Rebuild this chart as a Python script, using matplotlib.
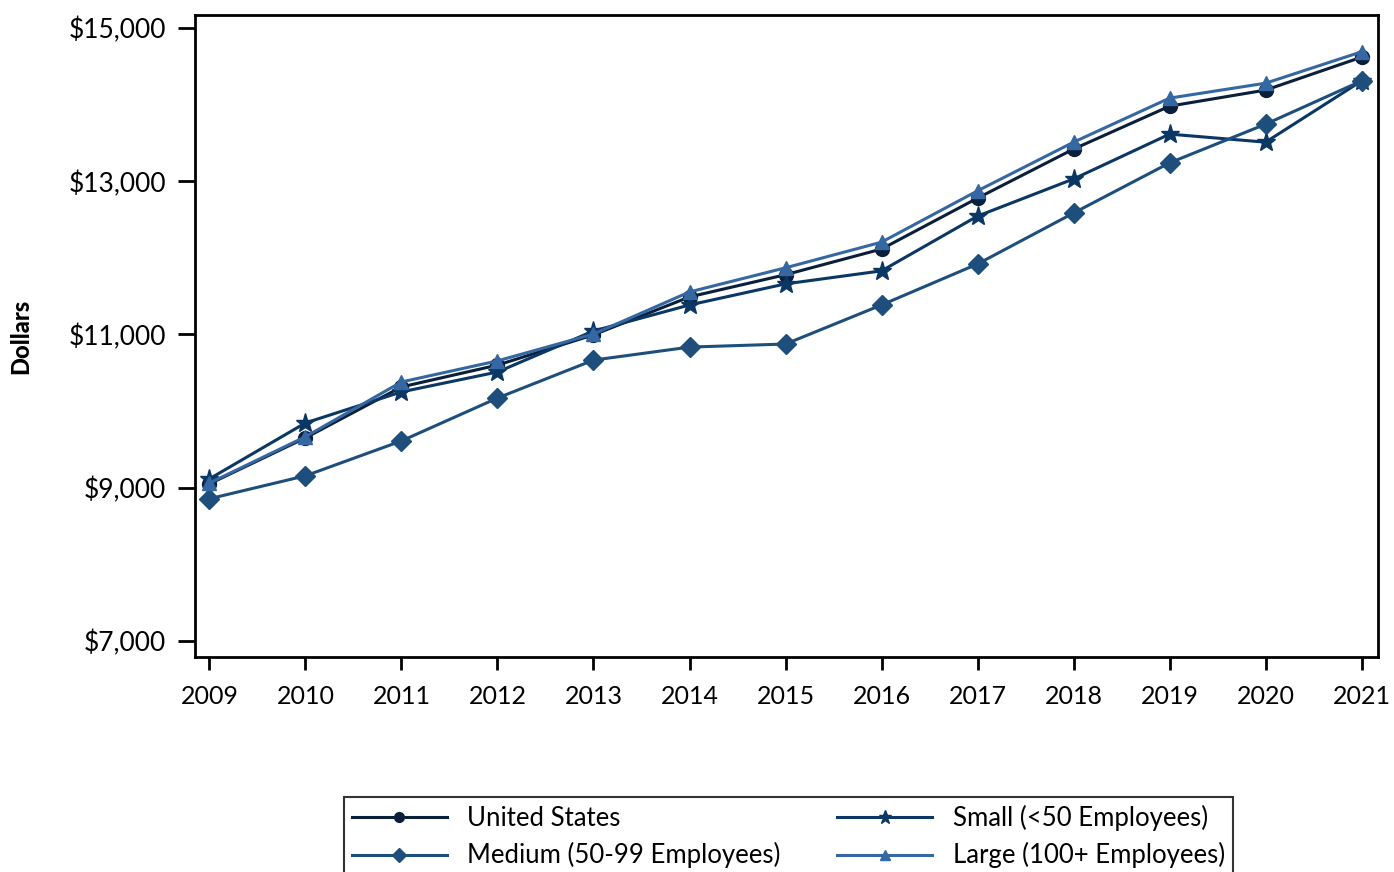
import matplotlib.pyplot as plt
from matplotlib.ticker import FuncFormatter

years = list(range(2009, 2022))
united_states = [9050, 9650, 10315, 10600, 10995, 11490, 11780, 12115, 12780, 13420, 13980, 14190, 14620]
small = [9115, 9845, 10250, 10510, 11045, 11385, 11660, 11830, 12545, 13030, 13615, 13510, 14310]
medium = [8855, 9155, 9610, 10170, 10665, 10835, 10875, 11385, 11920, 12585, 13240, 13745, 14310]
large = [9060, 9665, 10380, 10655, 11005, 11555, 11870, 12205, 12875, 13510, 14085, 14280, 14690]
y_ticks = [7000, 9000, 11000, 13000, 15000]

plt.rcParams['font.family'] = ['Lato', 'DejaVu Sans']

fig = plt.figure(figsize=(13.94, 8.72), dpi=100)
ax = fig.add_axes([0.1399, 0.2466, 0.8486, 0.7362])

series = [
    ('United States', united_states, '#0a1f3a', 'o', 10),
    ('Small (<50 Employees)', small, '#0b3765', '*', 14),
    ('Medium (50-99 Employees)', medium, '#1e4f7c', 'D', 10),
    ('Large (100+ Employees)', large, '#3568a2', '^', 10),
]
lines = {}
for label, vals, color, marker, ms in series:
    lines[label], = ax.plot(years, vals, color=color, marker=marker, markersize=ms,
                            linewidth=2.2, label=label)

ax.set_xlim(2008.85, 2021.17)
ax.set_ylim(6790, 15170)
ax.set_xticks(years)
ax.set_yticks(y_ticks)
ax.yaxis.set_major_formatter(FuncFormatter(lambda v, p: f'${v:,.0f}'))
ax.tick_params(axis='x', labelsize=18, width=2, direction='out', length=9, pad=11)
ax.tick_params(axis='y', labelsize=19, width=2, direction='out', length=12, pad=9)
for s in ax.spines.values():
    s.set_linewidth(2)
ax.set_ylabel('Dollars', fontsize=17, fontweight='black', labelpad=26)

# row-wise order like the original: US, Small / Medium, Large
order = ['United States', 'Medium (50-99 Employees)', 'Small (<50 Employees)', 'Large (100+ Employees)']
leg = fig.legend([lines[k] for k in order], order, loc='upper left',
                 bbox_to_anchor=(0.2468, 0.086),
                 ncol=2, fontsize=18.5, frameon=True, fancybox=False, handlelength=3.7,
                 markerscale=0.7, columnspacing=2.2, borderaxespad=0, borderpad=0.3,
                 labelspacing=0.45, handletextpad=0.8)
leg.get_frame().set_edgecolor('black')
leg.get_frame().set_linewidth(1.5)

fig.savefig('out.png', dpi=100)
